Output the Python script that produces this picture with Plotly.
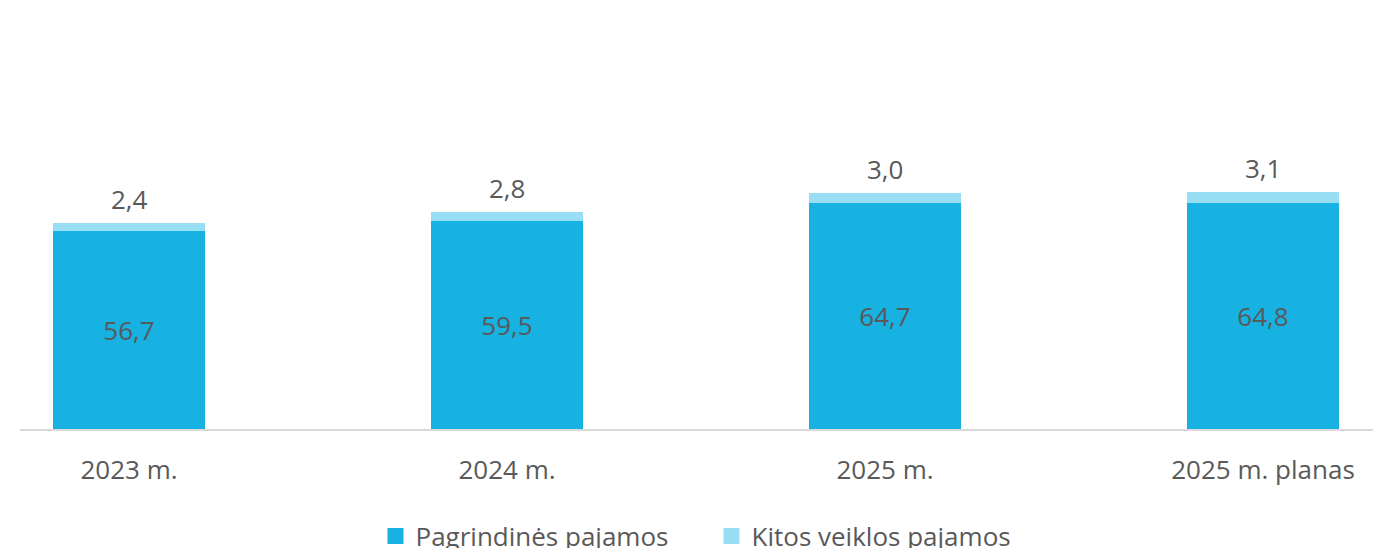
import plotly.graph_objects as go

categories = ["2023 m.", "2024 m.", "2025 m.", "2025 m. planas"]
main_income = [56.7, 59.5, 64.7, 64.8]
other_income = [2.4, 2.8, 3.0, 3.1]
series_names = ["Pagrindinės pajamos", "Kitos veiklos pajamos"]

x_pos = list(range(len(categories)))
totals = [a + b for a, b in zip(main_income, other_income)]

DARK = "#17B1E2"
LIGHT = "#98DEF4"
LABEL = "#595959"
FONT = "Open Sans"
FS = 26

fig = go.Figure()
fig.add_trace(go.Bar(
    x=x_pos, y=main_income, name=series_names[0],
    marker=dict(color=DARK, line=dict(width=0)),
    width=0.402, showlegend=False,
    texttemplate="%{y:.1f}", textposition="inside", insidetextanchor="middle",
    textfont=dict(family=FONT, size=FS, color=LABEL),
    hoverinfo="skip",
))
fig.add_trace(go.Bar(
    x=x_pos, y=other_income, name=series_names[1],
    marker=dict(color=LIGHT, line=dict(width=0)),
    width=0.402, showlegend=False,
    hoverinfo="skip",
))
# legend entries with larger square swatches
for nm, col in zip(series_names, [DARK, LIGHT]):
    fig.add_trace(go.Scatter(
        x=[None], y=[None], mode="markers", name=nm,
        marker=dict(symbol="square", size=16, color=col),
        showlegend=True, hoverinfo="skip",
    ))

for xi, tot, v in zip(x_pos, totals, other_income):
    fig.add_annotation(
        x=xi, y=tot, text=f"{v:.1f}".replace(".", ","),
        showarrow=False, yanchor="bottom", yshift=4,
        font=dict(family=FONT, size=FS, color=LABEL),
    )

fig_w, fig_h = 1373, 548
plot_left = 20
plot_top = 100
plot_bottom = 429
plot_w = fig_w - plot_left
px_per_unit = 3.49
ymax = (plot_bottom - plot_top) / px_per_unit

fig.update_layout(
    barmode="stack",
    width=fig_w, height=fig_h,
    margin=dict(l=plot_left, r=0, t=plot_top, b=fig_h - plot_bottom, autoexpand=False),
    paper_bgcolor="white", plot_bgcolor="white",
    separators=", ",
    font=dict(family=FONT, color=LABEL),
    showlegend=True,
    legend=dict(
        orientation="h", x=0.5 + 15 / plot_w, xanchor="center",
        yref="container", y=1 - 536 / fig_h, yanchor="middle",
        font=dict(family=FONT, size=FS, color=LABEL),
        entrywidth=291, traceorder="normal",
    ),
    xaxis=dict(
        range=[-0.2884, 3.291],
        tickmode="array", tickvals=x_pos, ticktext=categories,
        showgrid=False, zeroline=False, automargin=False,
        showline=True, linecolor="#D9D9D9", linewidth=2,
        ticks="outside", ticklen=17, tickcolor="rgba(0,0,0,0)",
        tickfont=dict(family=FONT, size=FS, color=LABEL),
        fixedrange=True,
    ),
    yaxis=dict(
        range=[0, ymax], visible=False, showgrid=False, zeroline=False,
        automargin=False, fixedrange=True,
    ),
)

fig.write_html(
    "out.html",
    config={"displayModeBar": False},
    post_script="document.documentElement.style.overflow='hidden';document.body.style.margin='0';document.body.style.overflow='hidden';",
)
